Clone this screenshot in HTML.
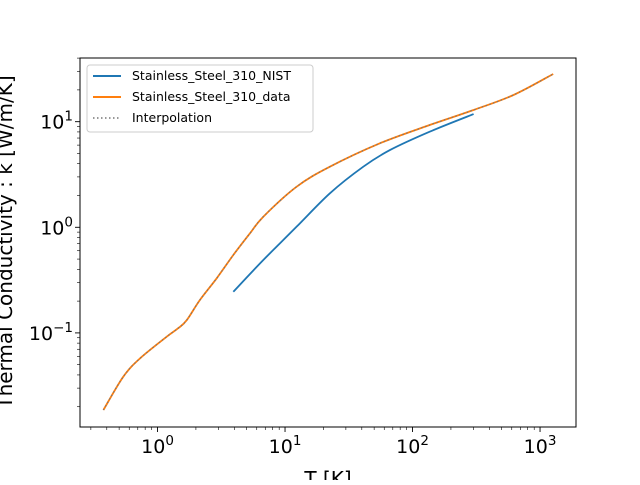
<!DOCTYPE html>
<html><head><meta charset="utf-8"><style>
body{margin:0;background:#fff}
svg text{font-family:"DejaVu Sans","Liberation Sans",sans-serif}
</style></head><body>
<svg id="chart" width="640" height="480" xmlns="http://www.w3.org/2000/svg">
<rect width="640" height="480" fill="#fff"/>
<g id="plot"></g>
<rect x="80" y="58" width="496" height="369" fill="none" stroke="#000" stroke-width="1"/>
<text x="328" y="486" text-anchor="middle" font-size="20">T [K]</text>
<text transform="translate(12,242) rotate(-90)" text-anchor="middle" font-size="20">Thermal Conductivity : k [W/m/K]</text>
<g>
<rect x="87" y="65" width="226" height="67" rx="3" fill="#fff" fill-opacity="0.8" stroke="#ccc"/>
<line x1="93" y1="76" x2="121" y2="76" stroke="#1f77b4" stroke-width="2"/>
<text x="132" y="80" font-size="12.5">Stainless_Steel_310_NIST</text>
<line x1="93" y1="97" x2="121" y2="97" stroke="#ff7f0e" stroke-width="2"/>
<text x="132" y="101" font-size="12.5">Stainless_Steel_310_data</text>
<line x1="93" y1="118" x2="121" y2="118" stroke="#777" stroke-width="1.5" stroke-dasharray="1.5,2.5"/>
<text x="132" y="122" font-size="12.5">Interpolation</text>
</g>
</svg>
<script>
const dataT=[0.376,0.539,0.729,1.18,1.456,1.694,2.15,2.91,3.93,5.31,6.76,12.3,22.5,55.4,137,301,619,1269];
const dataK=[0.0186,0.0385,0.0574,0.092,0.111,0.132,0.205,0.329,0.547,0.877,1.26,2.42,3.75,6.24,9.32,12.9,17.9,28.3];
const nistT=[3.93,6.76,12.3,22.5,41.1,66.4,137,301];
const nistK=[0.245,0.49,1.01,2.10,3.75,5.38,8.05,11.8];
const xTickExp=[0,1,2,3];
const yTickExp=[-1,0,1];
const NS="http://www.w3.org/2000/svg";
const L=80,R=576,T=58,B=427;
const xmin=-0.608,xmax=3.282,ymin=-1.891,ymax=1.603;
function xs(v){return L+(Math.log10(v)-xmin)/(xmax-xmin)*(R-L);}
function ys(v){return B-(Math.log10(v)-ymin)/(ymax-ymin)*(B-T);}
const g=document.getElementById('plot');
function mk(tag,attrs){const e=document.createElementNS(NS,tag);for(const k in attrs)e.setAttribute(k,attrs[k]);g.appendChild(e);return e;}
for(let d=-1;d<=3;d++){for(let m=1;m<10;m++){const v=m*Math.pow(10,d);const lv=Math.log10(v);if(lv<xmin||lv>xmax)continue;const x=xs(v);const len=m===1?5:3;
const t=mk('line',{x1:x,y1:B,x2:x,y2:B+len,stroke:'#000','stroke-width':m===1?0.9:0.6});

}}
for(let d=-2;d<=1;d++){for(let m=1;m<10;m++){const v=m*Math.pow(10,d);const lv=Math.log10(v);if(lv<ymin||lv>ymax)continue;const y=ys(v);const len=m===1?5:3;
const t=mk('line',{x1:L-len,y1:y,x2:L,y2:y,stroke:'#000','stroke-width':m===1?0.9:0.6});

}}
xTickExp.forEach(e=>{const x=xs(Math.pow(10,e));const t=mk('text',{x:x,y:453,'text-anchor':'middle','font-size':'19'});
t.innerHTML='10<tspan dy="-8" font-size="13.5">'+e+'</tspan>';

});
yTickExp.forEach(e=>{const y=ys(Math.pow(10,e));const t=mk('text',{x:73,y:y+7,'text-anchor':'end','font-size':'19'});
t.innerHTML='10<tspan dy="-8" font-size="13.5">'+(e<0?'\u2212'+(-e):e)+'</tspan>';

});
function smooth(X,Y){const p=X.map((v,i)=>[xs(v),ys(Y[i])]);let d='M'+p[0][0].toFixed(1)+','+p[0][1].toFixed(1);
for(let i=0;i<p.length-1;i++){const p0=p[Math.max(0,i-1)],p1=p[i],p2=p[i+1],p3=p[Math.min(p.length-1,i+2)];
const c1=[p1[0]+(p2[0]-p0[0])/6,p1[1]+(p2[1]-p0[1])/6],c2=[p2[0]-(p3[0]-p1[0])/6,p2[1]-(p3[1]-p1[1])/6];
d+=' C'+c1.map(v=>v.toFixed(1)).join(',')+' '+c2.map(v=>v.toFixed(1)).join(',')+' '+p2.map(v=>v.toFixed(1)).join(',');}
return d;}
const n=mk('path',{d:smooth(nistT,nistK),fill:'none',stroke:'#1f77b4','stroke-width':1.8});


const o=mk('path',{d:smooth(dataT,dataK),fill:'none',stroke:'#ff7f0e','stroke-width':1.8});


const p=mk('path',{d:smooth(dataT,dataK),fill:'none',stroke:'#777','stroke-width':1.2,'stroke-dasharray':'1.5,2.5'});


</script>
</body></html>
